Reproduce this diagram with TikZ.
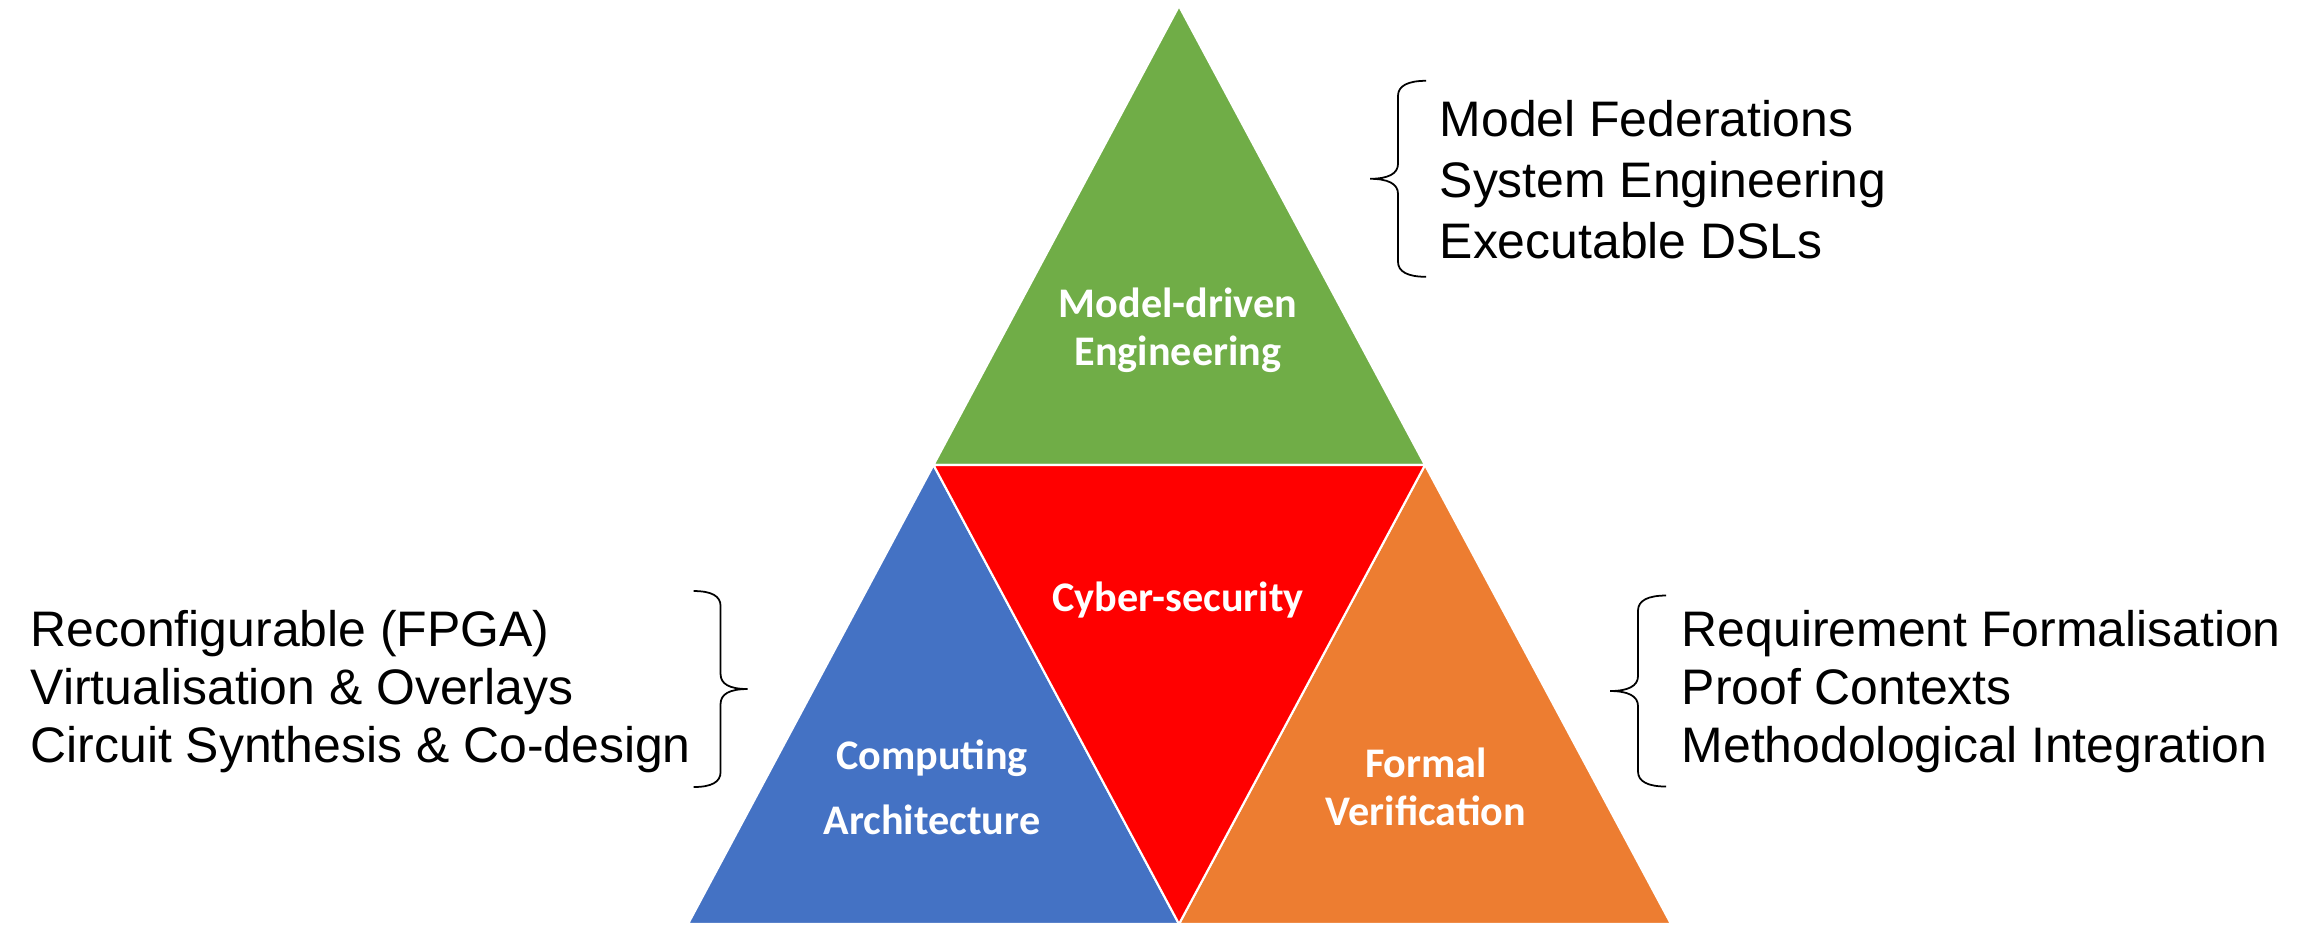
\documentclass[tikz,border=0pt]{standalone}
\usepackage{fontspec}
\setmainfont{Liberation Sans}
\newfontfamily\labelfont{Carlito}
\usepackage{tikz}
\usetikzlibrary{positioning}
\usepackage{xcolor}
\definecolor{mdegreen}{HTML}{70AD47}
\definecolor{secred}{HTML}{FF0000}
\definecolor{archblue}{HTML}{4472C4}
\definecolor{verorange}{HTML}{ED7D31}

\begin{document}
\begin{tikzpicture}[
  face/.style={draw=white, line width=0.6pt, line join=round},
  area/.style={text=white, align=center, inner sep=0pt, font=\labelfont\bfseries\fontsize{12}{13.7}\selectfont},
  topics/.style={align=left, inner sep=0pt, font=\fontsize{14.2}{16.5}\selectfont},
  bracepen/.style={line width=0.5pt}
]
  \useasboundingbox (0,0) rectangle (23.1,9.27);

  % corners of the big triangle
  \coordinate (apex) at (11.79,9.21);
  \coordinate (midL) at (9.335,4.62);
  \coordinate (midR) at (14.25,4.62);
  \coordinate (botL) at (6.88,0.03);
  \coordinate (botM) at (11.79,0.03);
  \coordinate (botR) at (16.71,0.03);

  \draw[face, fill=mdegreen] (apex) -- (midL) -- (midR) -- cycle;
  \draw[face, fill=archblue] (midL) -- (botL) -- (botM) -- cycle;
  \draw[face, fill=verorange] (midR) -- (botM) -- (botR) -- cycle;
  \draw[face, fill=secred] (midL) -- (midR) -- (botM) -- cycle;

  \node[area] (mde) at (11.78,5.97) {Model-driven\\Engineering};
  \node[area] (sec) at (11.78,3.27) {Cyber-security};
  \node[area, font=\labelfont\bfseries\fontsize{12}{18.5}\selectfont] (arch) at (9.32,1.40) {Computing\\Architecture};
  \node[area] (verif) at (14.26,1.40) {Formal\\Verification};

  \node[topics, anchor=west, font=\fontsize{14.2}{17.4}\selectfont] (mdetopics) at (14.39,7.47)
    {Model Federations\\System Engineering\\Executable DSLs};
  \node[topics, anchor=west] (archtopics) at (0.30,2.35)
    {Reconfigurable (FPGA)\\Virtualisation \& Overlays\\Circuit Synthesis \& Co-design};
  \node[topics, anchor=west] (veriftopics) at (16.81,2.35)
    {Requirement Formalisation\\Proof Contexts\\Methodological Integration};

  % braces, drawn from the top end downwards
  \draw[bracepen] ([xshift=-0.13cm, yshift=0.19cm]mdetopics.north west)
    .. controls +(-0.18,0) and +(0,0.1) .. ++(-0.28,-0.15) -- ++(0,-0.68)
    .. controls +(0,-0.1) and +(0.18,0) .. ++(-0.28,-0.15)
    .. controls +(0.18,0) and +(0,0.1) .. ++(0.28,-0.15) -- ++(0,-0.68)
    .. controls +(0,-0.1) and +(-0.18,0) .. ++(0.28,-0.15);
  \draw[bracepen, xscale=-1] ([xshift=-0.02cm, yshift=0.19cm]archtopics.north east)
    .. controls +(-0.18,0) and +(0,0.1) .. ++(-0.27,-0.15) -- ++(0,-0.68)
    .. controls +(0,-0.1) and +(0.18,0) .. ++(-0.27,-0.15)
    .. controls +(0.18,0) and +(0,0.1) .. ++(0.27,-0.15) -- ++(0,-0.68)
    .. controls +(0,-0.1) and +(-0.18,0) .. ++(0.27,-0.15);
  \draw[bracepen] ([xshift=-0.15cm, yshift=0.145cm]veriftopics.north west)
    .. controls +(-0.18,0) and +(0,0.1) .. ++(-0.28,-0.15) -- ++(0,-0.655)
    .. controls +(0,-0.1) and +(0.18,0) .. ++(-0.28,-0.15)
    .. controls +(0.18,0) and +(0,0.1) .. ++(0.28,-0.15) -- ++(0,-0.655)
    .. controls +(0,-0.1) and +(-0.18,0) .. ++(0.28,-0.15);
\end{tikzpicture}
\end{document}
